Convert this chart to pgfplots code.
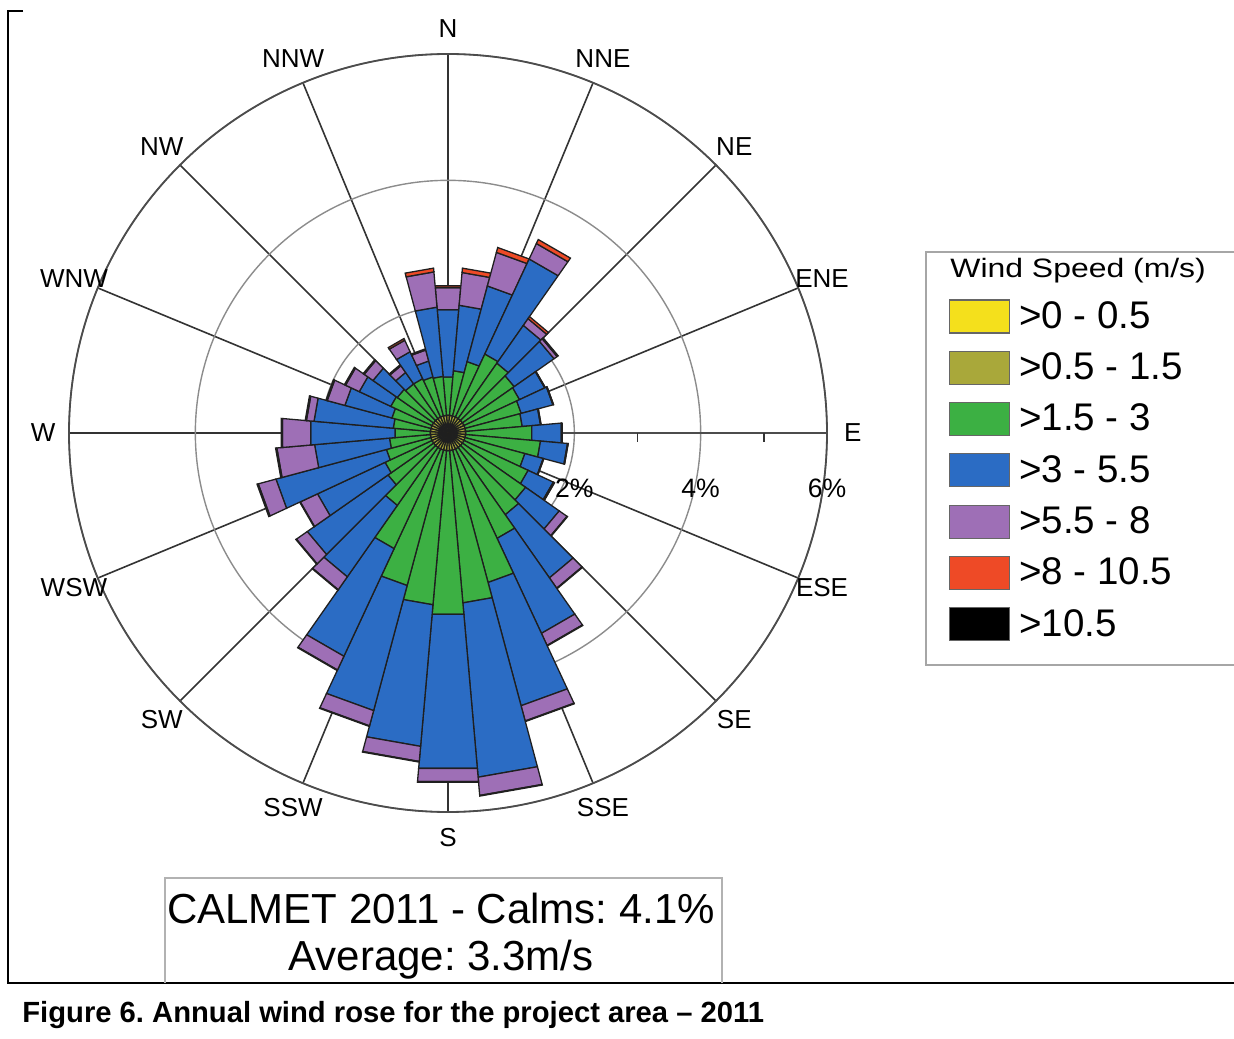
\documentclass[border=0pt]{standalone}
\usepackage{fontspec}
\setmainfont{Liberation Sans}
\newfontfamily\widefont[FakeStretch=1.2]{Liberation Sans}
\usepackage{pgfplots}
\usepackage{pgfplotstable}
\pgfplotsset{compat=1.18}
\usepgfplotslibrary{polar}

\definecolor{cY}{HTML}{F4E01C}
\definecolor{cO}{HTML}{A9A83A}
\definecolor{cG}{HTML}{3CB043}
\definecolor{cB}{HTML}{2B6CC4}
\definecolor{cP}{HTML}{9E6FB6}
\definecolor{cR}{HTML}{EE4A26}
\definecolor{cK}{HTML}{000000}

% cumulative outer radius (%) of each speed band, per 10-degree sector (compass)
\pgfplotstableread{
dir y    o    g    b    p    r
0   0.07 0.28 0.89 1.96 2.31 2.34
10  0.07 0.28 0.99 2.03 2.55 2.62
20  0.07 0.28 1.17 2.41 2.96 3.04
30  0.07 0.28 1.38 3.04 3.31 3.38
40  0.07 0.28 1.35 2.08 2.21 2.25
50  0.07 0.28 1.28 2.05 2.11 2.13
60  0.07 0.28 1.25 1.69 1.70 1.70
70  0.07 0.28 1.20 1.72 1.73 1.73
80  0.07 0.28 1.18 1.47 1.48 1.48
90  0.07 0.28 1.33 1.80 1.81 1.81
100 0.07 0.28 1.47 1.90 1.91 1.91
110 0.07 0.28 1.26 1.56 1.57 1.57
120 0.07 0.28 1.40 1.84 1.86 1.86
130 0.07 0.28 1.50 2.15 2.30 2.31
140 0.07 0.28 1.58 2.80 3.00 3.01
150 0.07 0.28 1.84 3.50 3.71 3.72
160 0.07 0.28 2.45 4.47 4.72 4.73
170 0.07 0.28 2.70 5.47 5.76 5.77
180 0.07 0.28 2.88 5.33 5.54 5.55
190 0.07 0.28 2.73 4.98 5.22 5.23
200 0.07 0.28 2.50 4.55 4.80 4.81
210 0.07 0.28 2.02 3.90 4.14 4.15
220 0.07 0.28 1.40 2.78 3.03 3.04
230 0.07 0.28 1.16 2.72 2.93 2.94
240 0.07 0.28 1.10 2.28 2.58 2.59
250 0.07 0.28 1.01 2.82 3.11 3.13
260 0.07 0.28 0.93 2.12 2.72 2.74
270 0.07 0.28 0.84 2.18 2.63 2.65
280 0.07 0.28 0.87 2.13 2.25 2.27
290 0.07 0.28 0.92 1.69 1.98 2.00
300 0.07 0.28 1.00 1.55 1.79 1.81
310 0.07 0.28 0.98 1.45 1.62 1.64
320 0.07 0.28 0.95 1.17 1.30 1.32
330 0.07 0.28 0.95 1.42 1.62 1.65
340 0.07 0.28 0.92 1.18 1.36 1.38
350 0.07 0.28 0.90 2.00 2.56 2.62
}\rosedata
\pgfplotstableset{create on use/zero/.style={create col/set={0}}}

% one band of one sector: #1 row, #2 inner column, #3 outer column, #4 colour
\newcommand\roseband[4]{%
  \pgfplotstablegetelem{#1}{dir}\of\rosedata
  \pgfmathsetmacro\rsA{mod(90-\pgfplotsretval-5+720,360)}%
  \pgfmathsetmacro\rsB{mod(90-\pgfplotsretval+5+720,360)}%
  \pgfplotstablegetelem{#1}{#2}\of\rosedata\let\rsLo\pgfplotsretval
  \pgfplotstablegetelem{#1}{#3}\of\rosedata\let\rsHi\pgfplotsretval
  \edef\rsCmd{\noexpand\addplot[draw=black!88,line width=0.65pt,line join=miter,fill=#4]
    coordinates {(\rsA,\rsLo) (\rsA,\rsHi) (\rsB,\rsHi) (\rsB,\rsLo) (\rsA,\rsLo)};}%
  \rsCmd
}

\begin{document}
\frenchspacing
\begin{tikzpicture}
\path[use as bounding box] (0,0) rectangle (617pt,519pt);

% frame lines
\draw[black, line width=0.6pt] (11.5pt,513.5pt) -- (4pt,513.5pt) -- (4pt,27.5pt) -- (617pt,27.5pt);

\begin{polaraxis}[
  at={(224pt,302.5pt)}, anchor=center,
  scale only axis, width=379pt, height=379pt,
  xmin=0, xmax=360, ymin=0, ymax=6,
  xtick={0,22.5,...,337.5}, xticklabels={},
  ytick={2,4,6}, yticklabels={},
  xmajorgrids, ymajorgrids,
  major x grid style={black!80, line width=0.8pt},
  major y grid style={black!45, line width=0.7pt},
  axis line style={black!70, line width=0.9pt},
  major tick length=0pt,
  clip=false,
]
\pgfplotsinvokeforeach{0,...,35}{%
  \roseband{#1}{zero}{y}{cY}%
  \roseband{#1}{y}{o}{cO}%
  \roseband{#1}{o}{g}{cG}%
  \roseband{#1}{g}{b}{cB}%
  \roseband{#1}{b}{p}{cP}%
  \roseband{#1}{p}{r}{cR}%
}
\draw[black!80, line width=0.7pt] (axis cs:0,3) -- ++(0pt,-4.5pt);
\draw[black!80, line width=0.7pt] (axis cs:0,5) -- ++(0pt,-4.5pt);
\node[font=\fontsize{13.3}{16}\selectfont] at (axis cs:0,2) [yshift=-27.5pt] {2\%};
\node[font=\fontsize{13.3}{16}\selectfont] at (axis cs:0,4) [yshift=-27.5pt] {4\%};
\node[font=\fontsize{13.3}{16}\selectfont] at (axis cs:0,6) [yshift=-27.5pt] {6\%};
\begin{scope}[every node/.style={font=\fontsize{13}{15}\selectfont}]
\node at (axis cs:90,6.41) {N};
\node at (axis cs:67.5,6.41) {NNE};
\node at (axis cs:45,6.41) {NE};
\node at (axis cs:22.5,6.41) {ENE};
\node at (axis cs:0,6.41) {E};
\node at (axis cs:337.5,6.41) {ESE};
\node at (axis cs:315,6.41) {SE};
\node at (axis cs:292.5,6.41) {SSE};
\node at (axis cs:270,6.41) {S};
\node at (axis cs:247.5,6.41) {SSW};
\node at (axis cs:225,6.41) {SW};
\node at (axis cs:202.5,6.41) {WSW};
\node at (axis cs:180,6.41) {W};
\node at (axis cs:157.5,6.41) {WNW};
\node at (axis cs:135,6.41) {NW};
\node at (axis cs:112.5,6.41) {NNW};
\end{scope}
\end{polaraxis}

% legend box and title
\draw[black!35, line width=1pt] (625pt,393pt) -- (463pt,393pt) -- (463pt,186.5pt) -- (625pt,186.5pt);
\node[anchor=base west, inner sep=0pt, font=\widefont\fontsize{13.3}{16}\selectfont] at (475pt,380pt) {Wind Speed (m/s)};

\begin{axis}[
  hide axis, scale only axis, width=1pt, height=1pt,
  xmin=0, xmax=1, ymin=0, ymax=1,
  at={(474.5pt,373.6pt)}, anchor=north west,
  legend cell align=left,
  legend image code/.code={\draw[#1, line width=0.6pt] (0pt,-8.25pt) rectangle (30pt,8.25pt);},
  legend style={at={(0,1)}, anchor=north west, draw=none, fill=none,
    inner sep=0pt, outer sep=0pt, row sep=0pt, column sep=4.5pt,
    font=\fontsize{19.25}{23}\selectfont,
    nodes={inner sep=0pt, minimum height=25.65pt}},
]
\addlegendimage{fill=cY, draw=black!60}
\addlegendentry{>0 - 0.5}
\addlegendimage{fill=cO, draw=black!60}
\addlegendentry{>0.5 - 1.5}
\addlegendimage{fill=cG, draw=black!60}
\addlegendentry{>1.5 - 3}
\addlegendimage{fill=cB, draw=black!60}
\addlegendentry{>3 - 5.5}
\addlegendimage{fill=cP, draw=black!60}
\addlegendentry{>5.5 - 8}
\addlegendimage{fill=cR, draw=black!60}
\addlegendentry{>8 - 10.5}
\addlegendimage{fill=cK, draw=black!60}
\addlegendentry{>10.5}
\end{axis}

% info box
\draw[black!30, line width=1pt] (82.5pt,27.5pt) -- (82.5pt,80pt) -- (361pt,80pt) -- (361pt,27.5pt);
\node[anchor=base, inner sep=0pt, font=\fontsize{21}{25}\selectfont] at (220.5pt,57.5pt) {CALMET 2011 - Calms: 4.1\%};
\node[anchor=base, inner sep=0pt, font=\fontsize{21}{25}\selectfont] at (220.5pt,34pt) {Average: 3.3m/s};

% caption
\node[anchor=base west, inner sep=0pt, font=\bfseries\fontsize{14.6}{17}\selectfont] at (11pt,8pt) {Figure 6. Annual wind rose for the project area – 2011};
\end{tikzpicture}
\end{document}
